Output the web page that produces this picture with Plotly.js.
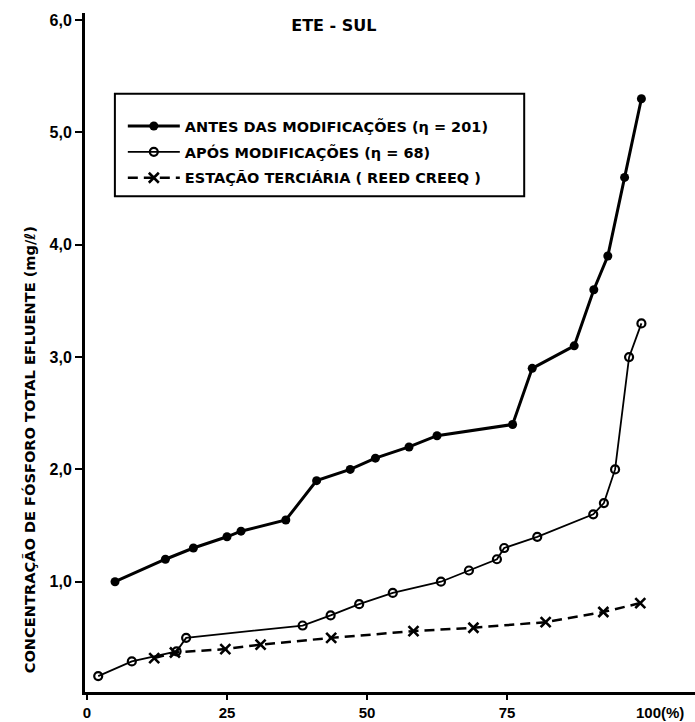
<!DOCTYPE html>
<html>
<head>
<meta charset="utf-8">
<script src="https://cdn.plot.ly/plotly-3.0.1.min.js"></script>
<style>html,body{margin:0;padding:0;background:#fff;}#chart{width:695px;height:722px;}</style>
</head>
<body>
<div id="chart"></div>
<script>
// Percentage of time (x) vs total phosphorus concentration in effluent (mg/l)
const pctAntes  = [5, 14, 19, 25, 27.5, 35.5, 41, 47, 51.5, 57.5, 62.5, 76, 79.5, 87, 90.5, 93, 96, 99];
const concAntes = [1.0, 1.2, 1.3, 1.4, 1.45, 1.55, 1.9, 2.0, 2.1, 2.2, 2.3, 2.4, 2.9, 3.1, 3.6, 3.9, 4.6, 5.3];

const pctApos  = [2, 8, 16, 17.7, 38.5, 43.5, 48.6, 54.6, 63.2, 68.2, 73.2, 74.5, 80.4, 90.4, 92.3, 94.3, 96.8, 99];
const concApos = [0.16, 0.29, 0.38, 0.5, 0.61, 0.7, 0.8, 0.9, 1.0, 1.1, 1.2, 1.3, 1.4, 1.6, 1.7, 2.0, 3.0, 3.3];

const pctReed  = [12, 15.7, 24.7, 31, 43.6, 58.3, 69, 81.9, 92.2, 98.8];
const concReed = [0.32, 0.37, 0.40, 0.44, 0.50, 0.56, 0.59, 0.64, 0.73, 0.81];

const seriesNames = [
  'ANTES DAS MODIFICAÇÕES (η = 201)',
  'APÓS MODIFICAÇÕES (η = 68)',
  'ESTAÇÃO TERCIÁRIA ( REED CREEQ )'
];

const xTickVals = [0, 25, 50, 75];
const xTickText = ['0', '25', '50', '75'];
const yTickVals = [1, 2, 3, 4, 5, 6];
const yTickText = ['1,0', '2,0', '3,0', '4,0', '5,0', '6,0'];

const FONT = 'Liberation Sans, Arial, sans-serif';
const WIDE = 'DejaVu Sans, Verdana, sans-serif';

const traces = [
  {
    x: pctAntes, y: concAntes, name: seriesNames[0], legendgroup: 'a',
    mode: 'lines+markers', type: 'scatter',
    line: {color: '#000', width: 3},
    marker: {symbol: 'circle', size: 9, color: '#000'}
  },
  {
    x: pctApos, y: concApos, name: seriesNames[1], legendgroup: 'b',
    mode: 'lines+markers', type: 'scatter',
    line: {color: '#000', width: 1.8},
    marker: {symbol: 'circle-open', size: 8, color: '#000', line: {width: 2.2, color: '#000'}}
  },
  {
    x: pctReed, y: concReed, name: seriesNames[2], legendgroup: 'c',
    mode: 'lines+markers', type: 'scatter',
    line: {color: '#000', width: 2.5, dash: '10px,6px'},
    marker: {symbol: 'x-thin-open', size: 10, color: '#000', line: {width: 2.6, color: '#000'}}
  }
];

const layout = {
  width: 695, height: 722,
  margin: {l: 85, r: 0, t: 13, b: 30},
  paper_bgcolor: '#fff', plot_bgcolor: '#fff',
  font: {family: FONT, color: '#000', size: 15, weight: 'bold'},
  showlegend: true,
  title: {
    text: 'ETE - SUL', xref: 'paper', x: 0.408, xanchor: 'center',
    y: 0.965, yanchor: 'middle',
    font: {family: WIDE, size: 16, weight: 'bold', color: '#000'}
  },
  xaxis: {
    range: [-0.36, 108.57], showgrid: false, zeroline: false,
    showline: true, linecolor: '#000', linewidth: 3,
    tickmode: 'array', tickvals: xTickVals, ticktext: xTickText,
    ticks: 'outside', ticklen: 5, tickwidth: 2, tickcolor: '#000',
    tickfont: {family: FONT, size: 15, weight: 'bold', color: '#000'}
  },
  yaxis: {
    range: [0.018, 6.064], showgrid: false, zeroline: false,
    showline: true, linecolor: '#000', linewidth: 3,
    tickmode: 'array', tickvals: yTickVals, ticktext: yTickText,
    ticks: 'outside', ticklen: 7, tickwidth: 2, tickcolor: '#000',
    tickfont: {family: FONT, size: 16, weight: 'bold', color: '#000'}
  },
  legend: {
    x: 0.062, xanchor: 'left', y: 0.857, yanchor: 'top',
    bgcolor: 'rgba(0,0,0,0)', borderwidth: 0,
    itemwidth: 52, tracegroupgap: 4, traceorder: 'grouped',
    font: {family: WIDE, size: 14.5, weight: 'bold', color: '#000'}
  },
  shapes: [
    {type: 'rect', xref: 'paper', yref: 'paper', x0: 0.049, x1: 0.72, y0: 0.730, y1: 0.881,
     line: {color: '#000', width: 2}, fillcolor: 'rgba(0,0,0,0)'}
  ],
  annotations: [
    {text: 'CONCENTRAÇÃO DE FÓSFORO TOTAL EFLUENTE (mg/ℓ)', textangle: -90,
     xref: 'paper', yref: 'paper', x: -0.0918, y: 0.356, xanchor: 'center', yanchor: 'middle',
     showarrow: false, font: {family: WIDE, size: 14.6, weight: 'bold', color: '#000'}},
    {text: '100(%)', xref: 'x', yref: 'paper', x: 100, y: 0, xanchor: 'left', yanchor: 'top',
     xshift: -13, yshift: -10, showarrow: false,
     font: {family: FONT, size: 15, weight: 'bold', color: '#000'}}
  ]
};

Plotly.newPlot('chart', traces, layout, {displayModeBar: false, staticPlot: true});
</script>
</body>
</html>
